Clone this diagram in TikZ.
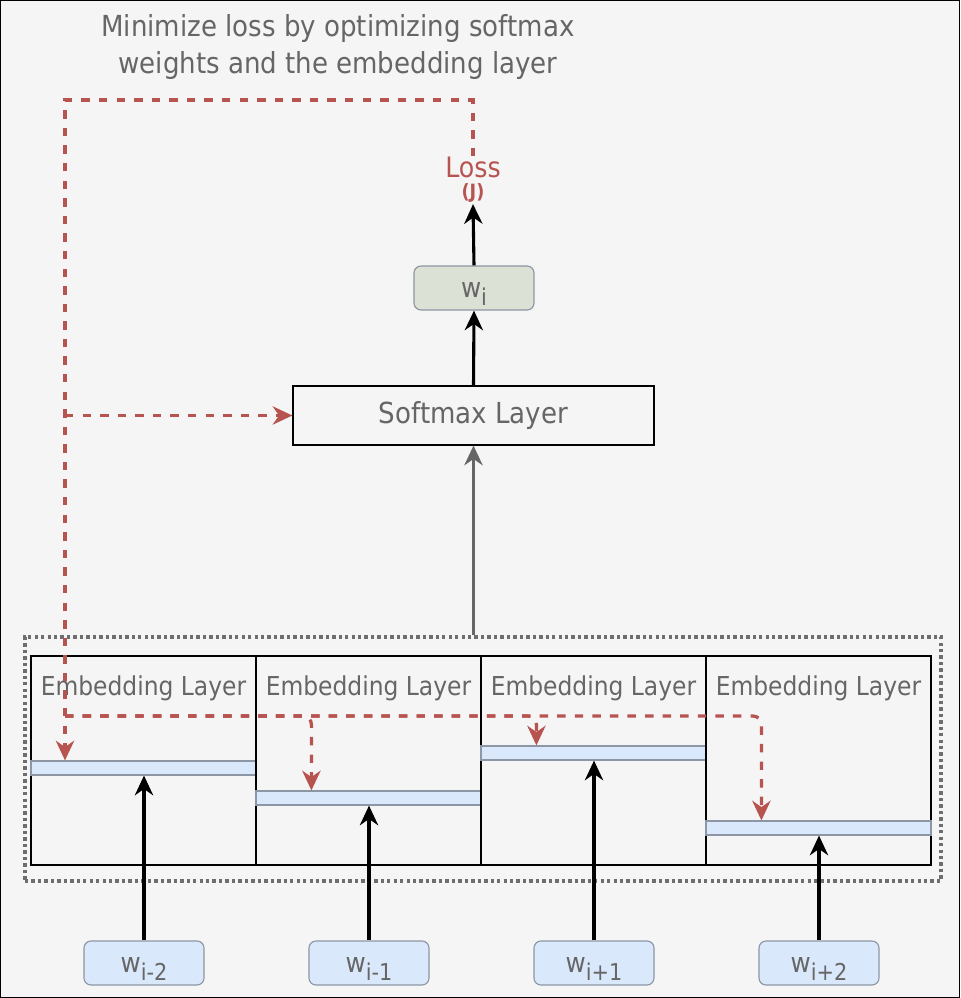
\documentclass[tikz,border=0pt]{standalone}
\usepackage{fontspec}
\setmainfont{DejaVu Sans Condensed}
\usepackage{xcolor}
\definecolor{bggray}{RGB}{245,245,245}
\definecolor{txtgray}{RGB}{102,102,102}
\definecolor{dotgray}{RGB}{110,110,110}
\definecolor{lossred}{RGB}{184,84,80}
\definecolor{vecblue}{RGB}{218,232,252}
\definecolor{vecedge}{RGB}{140,150,165}
\definecolor{outgreen}{RGB}{220,225,214}
\usepackage{tikz}
\usetikzlibrary{positioning,arrows.meta,calc}

\newcommand{\wsub}[1]{\rule{0pt}{1em}w\raisebox{-6pt}{\fontsize{16.5}{17}\selectfont #1}}

\tikzset{
  frame/.style={draw=black, line width=0.8pt, fill=bggray},
  layerbox/.style={draw=black, line width=0.8pt, fill=bggray, inner sep=0pt},
  vecbar/.style={draw=vecedge, fill=vecblue, line width=0.8pt, inner sep=0pt,
                 minimum width=5.625cm, minimum height=0.35cm},
  wordbox/.style={draw=vecedge, fill=vecblue, rounded corners=5pt, line width=0.8pt,
                  inner sep=0pt, minimum width=3cm, minimum height=1.1cm,
                  text=txtgray, font=\fontsize{19.5}{21}\selectfont},
  tip/.style={-{Stealth[length=14pt,width=13pt,inset=4.5pt]}},
  flow/.style={draw=black, line width=2.2pt, tip},
  lossline/.style={draw=lossred, line width=2.3pt, dash pattern=on 6pt off 6.5pt, tip}
}

\begin{document}
\begin{tikzpicture}[x=0.025cm, y=-0.025cm]
  \useasboundingbox (0,0) rectangle (960,998);
  \draw[frame] (0.5,0.5) rectangle (959.5,997.5);

  \node[text=txtgray, align=center, font=\fontsize{20.6}{26.2}\selectfont] (title) at (338,47)
    {Minimize loss by optimizing softmax\\weights and the embedding layer};

  % loss and output word
  \node[text=lossred, inner sep=0pt, font=\fontsize{20}{22}\selectfont] (loss) at (473,167) {Loss};
  \node[text=lossred, inner sep=1pt, font=\fontsize{14}{15}\selectfont\bfseries] (lossj) at (473,193) {(J)};
  \node[wordbox, fill=outgreen] (wi) at (474,288) {\wsub{i}};
  \node[layerbox, minimum width=9.025cm, minimum height=1.475cm, text=txtgray,
        font=\fontsize{20.6}{22}\selectfont] (softmax) at (473.5,415.5) {Softmax Layer};

  % embedding layers
  \node[draw=dotgray, line width=2.4pt, dash pattern=on 2.4pt off 2.2pt, inner sep=0pt,
        minimum width=22.9cm, minimum height=6.1cm] (group) at (483,759) {};
  \foreach \k/\x/\by/\s in {1/143.5/768/i-2, 2/368.5/798/i-1, 3/593.5/753/i+1, 4/818.5/828/i+2} {
    \node[layerbox, minimum width=5.625cm, minimum height=5.225cm] (emb\k) at (\x,760.5) {};
    \node[text=txtgray, inner sep=0pt, font=\fontsize{18.5}{20}\selectfont,
          below=0.5cm of emb\k.north] (lab\k) {Embedding Layer};
    \node[vecbar] (bar\k) at (\x,\by) {};
    \node[wordbox] (w\k) at (\x+0.5,963) {\wsub{\s}};
    \draw[flow] (w\k.north) -- (w\k.north |- bar\k.south);
  }

  \draw[flow] (softmax.north) -- (wi.south);
  \draw[flow] (wi.north) -- (lossj.south);
  \draw[draw=txtgray, line width=2.2pt, tip] (softmax.south |- group.north) -- (softmax.south);

  % loss feedback
  \coordinate (tl) at (65,100);
  \coordinate (fork) at (65,716);
  \draw[lossline] (loss.north) |- (tl) -- (tl |- bar1.north);
  \draw[lossline] (tl |- softmax.west) -- (softmax.west);
  \foreach \k in {2,3,4}
    \draw[lossline, rounded corners=6pt] (fork) -| ($(bar\k.north west)+(56,0)$);
\end{tikzpicture}
\end{document}
